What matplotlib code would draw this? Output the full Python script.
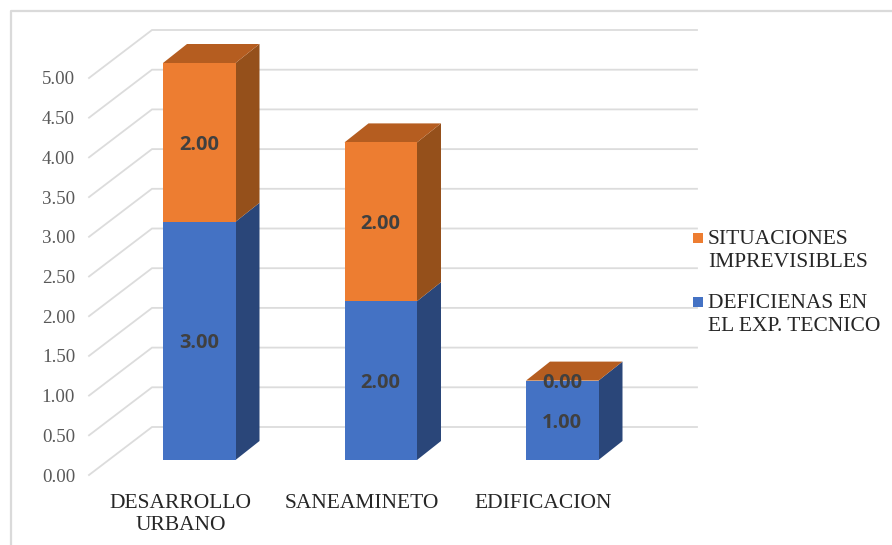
import matplotlib
matplotlib.use("Agg")
import matplotlib.pyplot as plt
from matplotlib.legend_handler import HandlerPatch
from matplotlib.lines import Line2D
from matplotlib.patches import Polygon, Patch, Rectangle

categories = ["DESARROLLO\nURBANO", "SANEAMINETO", "EDIFICACION"]
deficiencias = [3.0, 2.0, 1.0]
situaciones = [2.0, 2.0, 0.0]
series_names = ["DEFICIENAS EN\nEL EXP. TECNICO", "SITUACIONES\nIMPREVISIBLES"]
y_ticks = [0, 0.5, 1, 1.5, 2, 2.5, 3, 3.5, 4, 4.5, 5]

W, H = 892, 545
PX_X, PX_Y = 181.5, 79.4          # pixels per category / per value unit
WALL_DX, WALL_DY = 63 / PX_X, 48 / PX_Y
BAR_DX, BAR_DY = 24 / PX_X, 19 / PX_Y
BASE = 15 / PX_Y                  # bar foot above the axis zero
BAR_W = 72.5 / PX_X
X_LEFT = (89 - 199.25) / PX_X
X_RIGHT = (892 - 199.25) / PX_X
X_END = (697 - 199.25) / PX_X

BLUE, BLUE_SIDE = "#4472C4", "#2A4679"
ORANGE, ORANGE_SIDE, ORANGE_TOP = "#ED7D31", "#95501B", "#B55D20"
GRID = "#DCDCDC"
SERIF = "Liberation Serif"

fig = plt.figure(figsize=(W / 100, H / 100), dpi=100, facecolor="white")
ax = fig.add_axes([89 / W, (H - 475) / H, (W - 89) / W, 475 / H])
ax.set_xlim(X_LEFT, X_RIGHT)
ax.set_ylim(0, 475 / PX_Y)
for s in ax.spines.values():
    s.set_visible(False)

# chart frame
fig.add_artist(Line2D([10.5 / W, 10.5 / W, 1], [0, (H - 10.5) / H, (H - 10.5) / H],
                      color="#DADADA", lw=1.6))

# walls
for v in y_ticks:
    ax.plot([X_LEFT, X_LEFT + WALL_DX, X_END],
            [v, v + WALL_DY, v + WALL_DY],
            color=GRID, lw=1.3, zorder=1, clip_on=False, solid_joinstyle="miter")


def side_and_top(x, y0, h, side, top):
    xr = x + BAR_W / 2
    xl = x - BAR_W / 2
    y1 = y0 + h
    if h > 0:
        ax.add_patch(Polygon([(xr, y0), (xr + BAR_DX, y0 + BAR_DY),
                              (xr + BAR_DX, y1 + BAR_DY), (xr, y1)],
                             closed=True, fc=side, ec="none", zorder=3))
    if top:
        ax.add_patch(Polygon([(xl, y1), (xl + BAR_DX, y1 + BAR_DY),
                              (xr + BAR_DX, y1 + BAR_DY), (xr, y1)],
                             closed=True, fc=ORANGE_TOP, ec="none", zorder=3))


xs = list(range(len(categories)))
bottom2 = [BASE + d for d in deficiencias]
bars1 = ax.bar(xs, deficiencias, BAR_W, bottom=BASE, color=BLUE, zorder=4)
bars2 = ax.bar(xs, situaciones, BAR_W, bottom=bottom2, color=ORANGE, zorder=4)

LABEL_DROP = 2.5 / PX_Y
for x, d, s, b2 in zip(xs, deficiencias, situaciones, bottom2):
    side_and_top(x, BASE, d, BLUE_SIDE, False)
    side_and_top(x, b2, s, ORANGE_SIDE, True)
    ax.text(x, BASE + d / 2 - LABEL_DROP, f"{d:.2f}", ha="center", va="center", family="Open Sans",
            weight="bold", fontsize=14.4, color="#404040", zorder=6)
    ax.text(x, b2 + s / 2 - LABEL_DROP, f"{s:.2f}", ha="center", va="center", family="Open Sans",
            weight="bold", fontsize=14.4, color="#404040", zorder=6)

ax.set_yticks(y_ticks)
ax.set_yticklabels([f"{v:.2f}" for v in y_ticks], family=SERIF, fontsize=13.6, color="#595959")
ax.set_xticks([x - 0.103 for x in xs])
ax.set_xticklabels(categories, family=SERIF, fontsize=15.5, color="#262626", linespacing=1.2)
ax.tick_params(axis="y", length=0, pad=10)
ax.tick_params(axis="x", length=0, pad=14)


class TopLineHandler(HandlerPatch):
    """Square swatch raised so that it sits beside the first line of a two-line label."""

    def create_artists(self, legend, orig_handle, xdescent, ydescent, width, height, fontsize, trans):
        size = 10 * 0.72
        rect = Rectangle((-xdescent, -ydescent + 10.0), size, size, transform=trans,
                         fc=orig_handle.get_facecolor(), ec="none")
        return [rect]


handles = [Patch(fc=ORANGE, ec="none"), Patch(fc=BLUE, ec="none")]
leg = ax.legend(handles, [series_names[1], series_names[0]], loc="upper left",
                bbox_to_anchor=(692.5 / W, (H - 230) / H), bbox_transform=fig.transFigure,
                frameon=False, borderpad=0, borderaxespad=0, handlelength=0.47, handleheight=0.47,
                handletextpad=0.25, labelspacing=1.0, labelcolor="#262626",
                handler_map={Patch: TopLineHandler()},
                prop={"family": SERIF, "size": 15.5})
for t in leg.get_texts():
    t.set_linespacing(1.32)

fig.savefig("out.png", dpi=100)
